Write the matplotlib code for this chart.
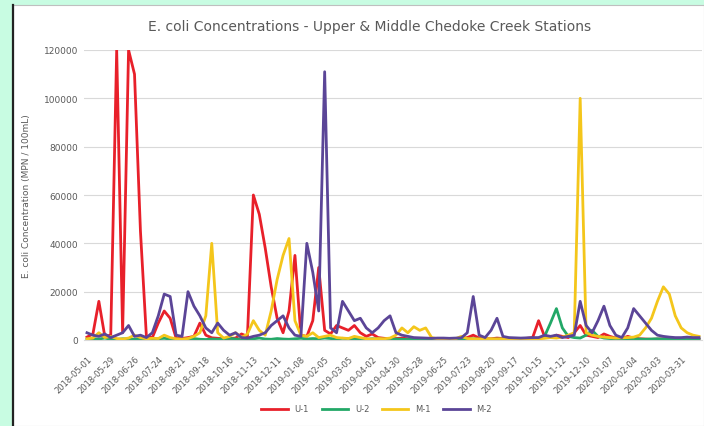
import matplotlib
matplotlib.use("Agg")
import matplotlib.pyplot as plt
from matplotlib.patches import Rectangle
from matplotlib.lines import Line2D

# Sample dates shown on the category axis (every 4th sample is labelled)
tick_labels = [
    "2018-05-01", "2018-05-29", "2018-06-26", "2018-07-24", "2018-08-21",
    "2018-09-18", "2018-10-16", "2018-11-13", "2018-12-11", "2019-01-08",
    "2019-02-05", "2019-03-05", "2019-04-02", "2019-04-30", "2019-05-28",
    "2019-06-25", "2019-07-23", "2019-08-20", "2019-09-17", "2019-10-15",
    "2019-11-12", "2019-12-10", "2020-01-07", "2020-02-04", "2020-03-03",
    "2020-03-31",
]
label_step = 4

series_names = ["U-1", "U-2", "M-1", "M-2"]

# E. coli (MPN / 100 mL) per sample, one list per station
u1 = [1200, 2500, 16000, 1500, 2000, 120000, 3000, 120000, 110000, 45000,
      1500, 1000, 7000, 12000, 9000, 800, 600, 1000, 1500, 7000,
      2000, 900, 700, 500, 600, 800, 2500, 1500, 60000, 52000,
      38000, 22000, 9000, 3000, 12000, 35000, 2000, 1500, 8000, 30000,
      4000, 2500, 6000, 5000, 4000, 6000, 3000, 1500, 2500, 1000,
      700, 500, 600, 800, 500, 400, 600, 400, 300, 400,
      300, 500, 400, 600, 1000, 2000, 800, 600, 500, 800,
      600, 500, 400, 500, 700, 1000, 8000, 1500, 1000, 2000,
      1500, 1000, 3000, 6000, 2000, 1500, 1000, 2500, 1500, 800,
      600, 1500, 800, 500, 400, 300, 400, 500, 600, 400,
      300, 500, 400, 300]

u2 = [300, 500, 400, 800, 300, 200, 500, 400, 300, 600,
      400, 300, 500, 700, 400, 300, 200, 400, 600, 300,
      200, 400, 300, 500, 700, 400, 300, 200, 500, 800,
      400, 300, 600, 400, 300, 500, 700, 400, 600, 500,
      800, 600, 400, 700, 500, 600, 400, 300, 500, 400,
      300, 200, 400, 300, 200, 300, 400, 300, 200, 300,
      400, 300, 200, 300, 400, 500, 300, 200, 300, 400,
      300, 200, 300, 400, 500, 600, 700, 1500, 7000, 13000,
      5000, 1500, 1000, 800, 2000, 4000, 1500, 800, 600, 500,
      400, 500, 600, 400, 300, 400, 500, 400, 300, 400,
      300, 400, 500, 400]

m1 = [500, 800, 3000, 1000, 1500, 600, 400, 800, 2000, 1000,
      500, 700, 600, 2000, 1000, 500, 400, 600, 1500, 3000,
      10000, 40000, 3000, 800, 1500, 3000, 1000, 2500, 8000, 4000,
      2000, 12000, 25000, 35000, 42000, 8000, 2000, 1500, 3000, 1000,
      1500, 2000, 1000, 800, 600, 1500, 1000, 500, 400, 600,
      500, 800, 2000, 5000, 3000, 5500, 4000, 5000, 1000, 500,
      400, 600, 500, 1500, 600, 500, 400, 600, 500, 400,
      500, 400, 300, 400, 500, 600, 500, 700, 1000, 800,
      1200, 2000, 3000, 100000, 3000, 2000, 1500, 1200, 1000, 800,
      900, 1000, 1200, 2000, 5000, 9000, 16000, 22000, 19000, 10000,
      5000, 3000, 2000, 1500]

m2 = [3000, 2000, 1500, 2500, 1000, 2000, 3000, 6000, 1500, 2000,
      1000, 3000, 10000, 19000, 18000, 2000, 1500, 20000, 14000, 10000,
      5000, 3000, 7000, 4000, 2000, 3000, 1000, 800, 1500, 2000,
      3000, 6000, 8000, 10000, 5000, 2000, 1500, 40000, 28000, 12000,
      111000, 5000, 3000, 16000, 12000, 8000, 9000, 5000, 3000, 5000,
      8000, 10000, 3000, 2000, 1500, 1000, 900, 800, 700, 800,
      800, 700, 800, 900, 3000, 18000, 2000, 1000, 4000, 9000,
      1500, 1000, 900, 800, 900, 1000, 1000, 2000, 1500, 2000,
      1000, 1500, 2000, 16000, 6000, 3000, 8000, 14000, 6000, 2000,
      1000, 5000, 13000, 10000, 7000, 4000, 2000, 1500, 1200, 1000,
      1000, 1200, 1000, 1000]

colors = ["#E8202A", "#22A867", "#F4C61B", "#5B4597"]

W, H, DPI = 704, 427, 100
fig = plt.figure(figsize=(W / DPI, H / DPI), dpi=DPI)
fig.patch.set_facecolor("#C8FCE2")

# White chart frame with a dark left edge
fig.patches.append(Rectangle((13 / W, 0), 1 - 13 / W, 1 - 6 / H,
                             transform=fig.transFigure, facecolor="white",
                             edgecolor="#BFBFBF", linewidth=0.8, zorder=-10))
fig.lines.append(Line2D([13 / W, 13 / W], [0, 1 - 6 / H],
                        transform=fig.transFigure, color="#222222",
                        linewidth=1.6, zorder=-9))

left, right = 84 / W, 702 / W
bottom, top = (H - 341) / H, (H - 51) / H
ax = fig.add_axes([left, bottom, right - left, top - bottom])
ax.set_facecolor("none")

x = list(range(len(u1)))
for vals, name, c in zip([u1, u2, m1, m2], series_names, colors):
    ax.plot(x, vals, color=c, linewidth=2.0, label=name, solid_joinstyle="round")

ax.set_xlim(-0.5, len(u1) - 0.5)
ax.set_ylim(0, 120000)
ax.set_yticks(range(0, 120001, 20000))
ax.set_yticklabels([str(v) for v in range(0, 120001, 20000)])
ax.yaxis.grid(True, color="#D9D9D9", linewidth=0.8)
ax.set_axisbelow(True)

ax.set_xticks(list(range(0, len(u1), label_step)))
ax.set_xticklabels(tick_labels, rotation=45, ha="right", rotation_mode="anchor")

for s in ["top", "right", "left"]:
    ax.spines[s].set_visible(False)
ax.spines["bottom"].set_color("#D9D9D9")
ax.tick_params(axis="both", length=0, colors="#595959")
ax.tick_params(axis="x", labelsize=6, pad=10)
ax.tick_params(axis="y", labelsize=6.5, pad=4)

ax.set_ylabel("E. coli Concentration (MPN / 100mL)", fontsize=6.5,
              color="#595959", labelpad=9)
fig.text(0.525, 1 - 27 / H,
         "E. coli Concentrations - Upper & Middle Chedoke Creek Stations",
         ha="center", va="center", fontsize=10, color="#595959")

fig.legend(loc="center", bbox_to_anchor=(0.535, 1 - 410 / H), ncol=4,
           frameon=False, fontsize=6, handlelength=3.2, columnspacing=1.5,
           labelcolor="#595959")

fig.savefig("out.png", dpi=DPI, facecolor=fig.get_facecolor())
